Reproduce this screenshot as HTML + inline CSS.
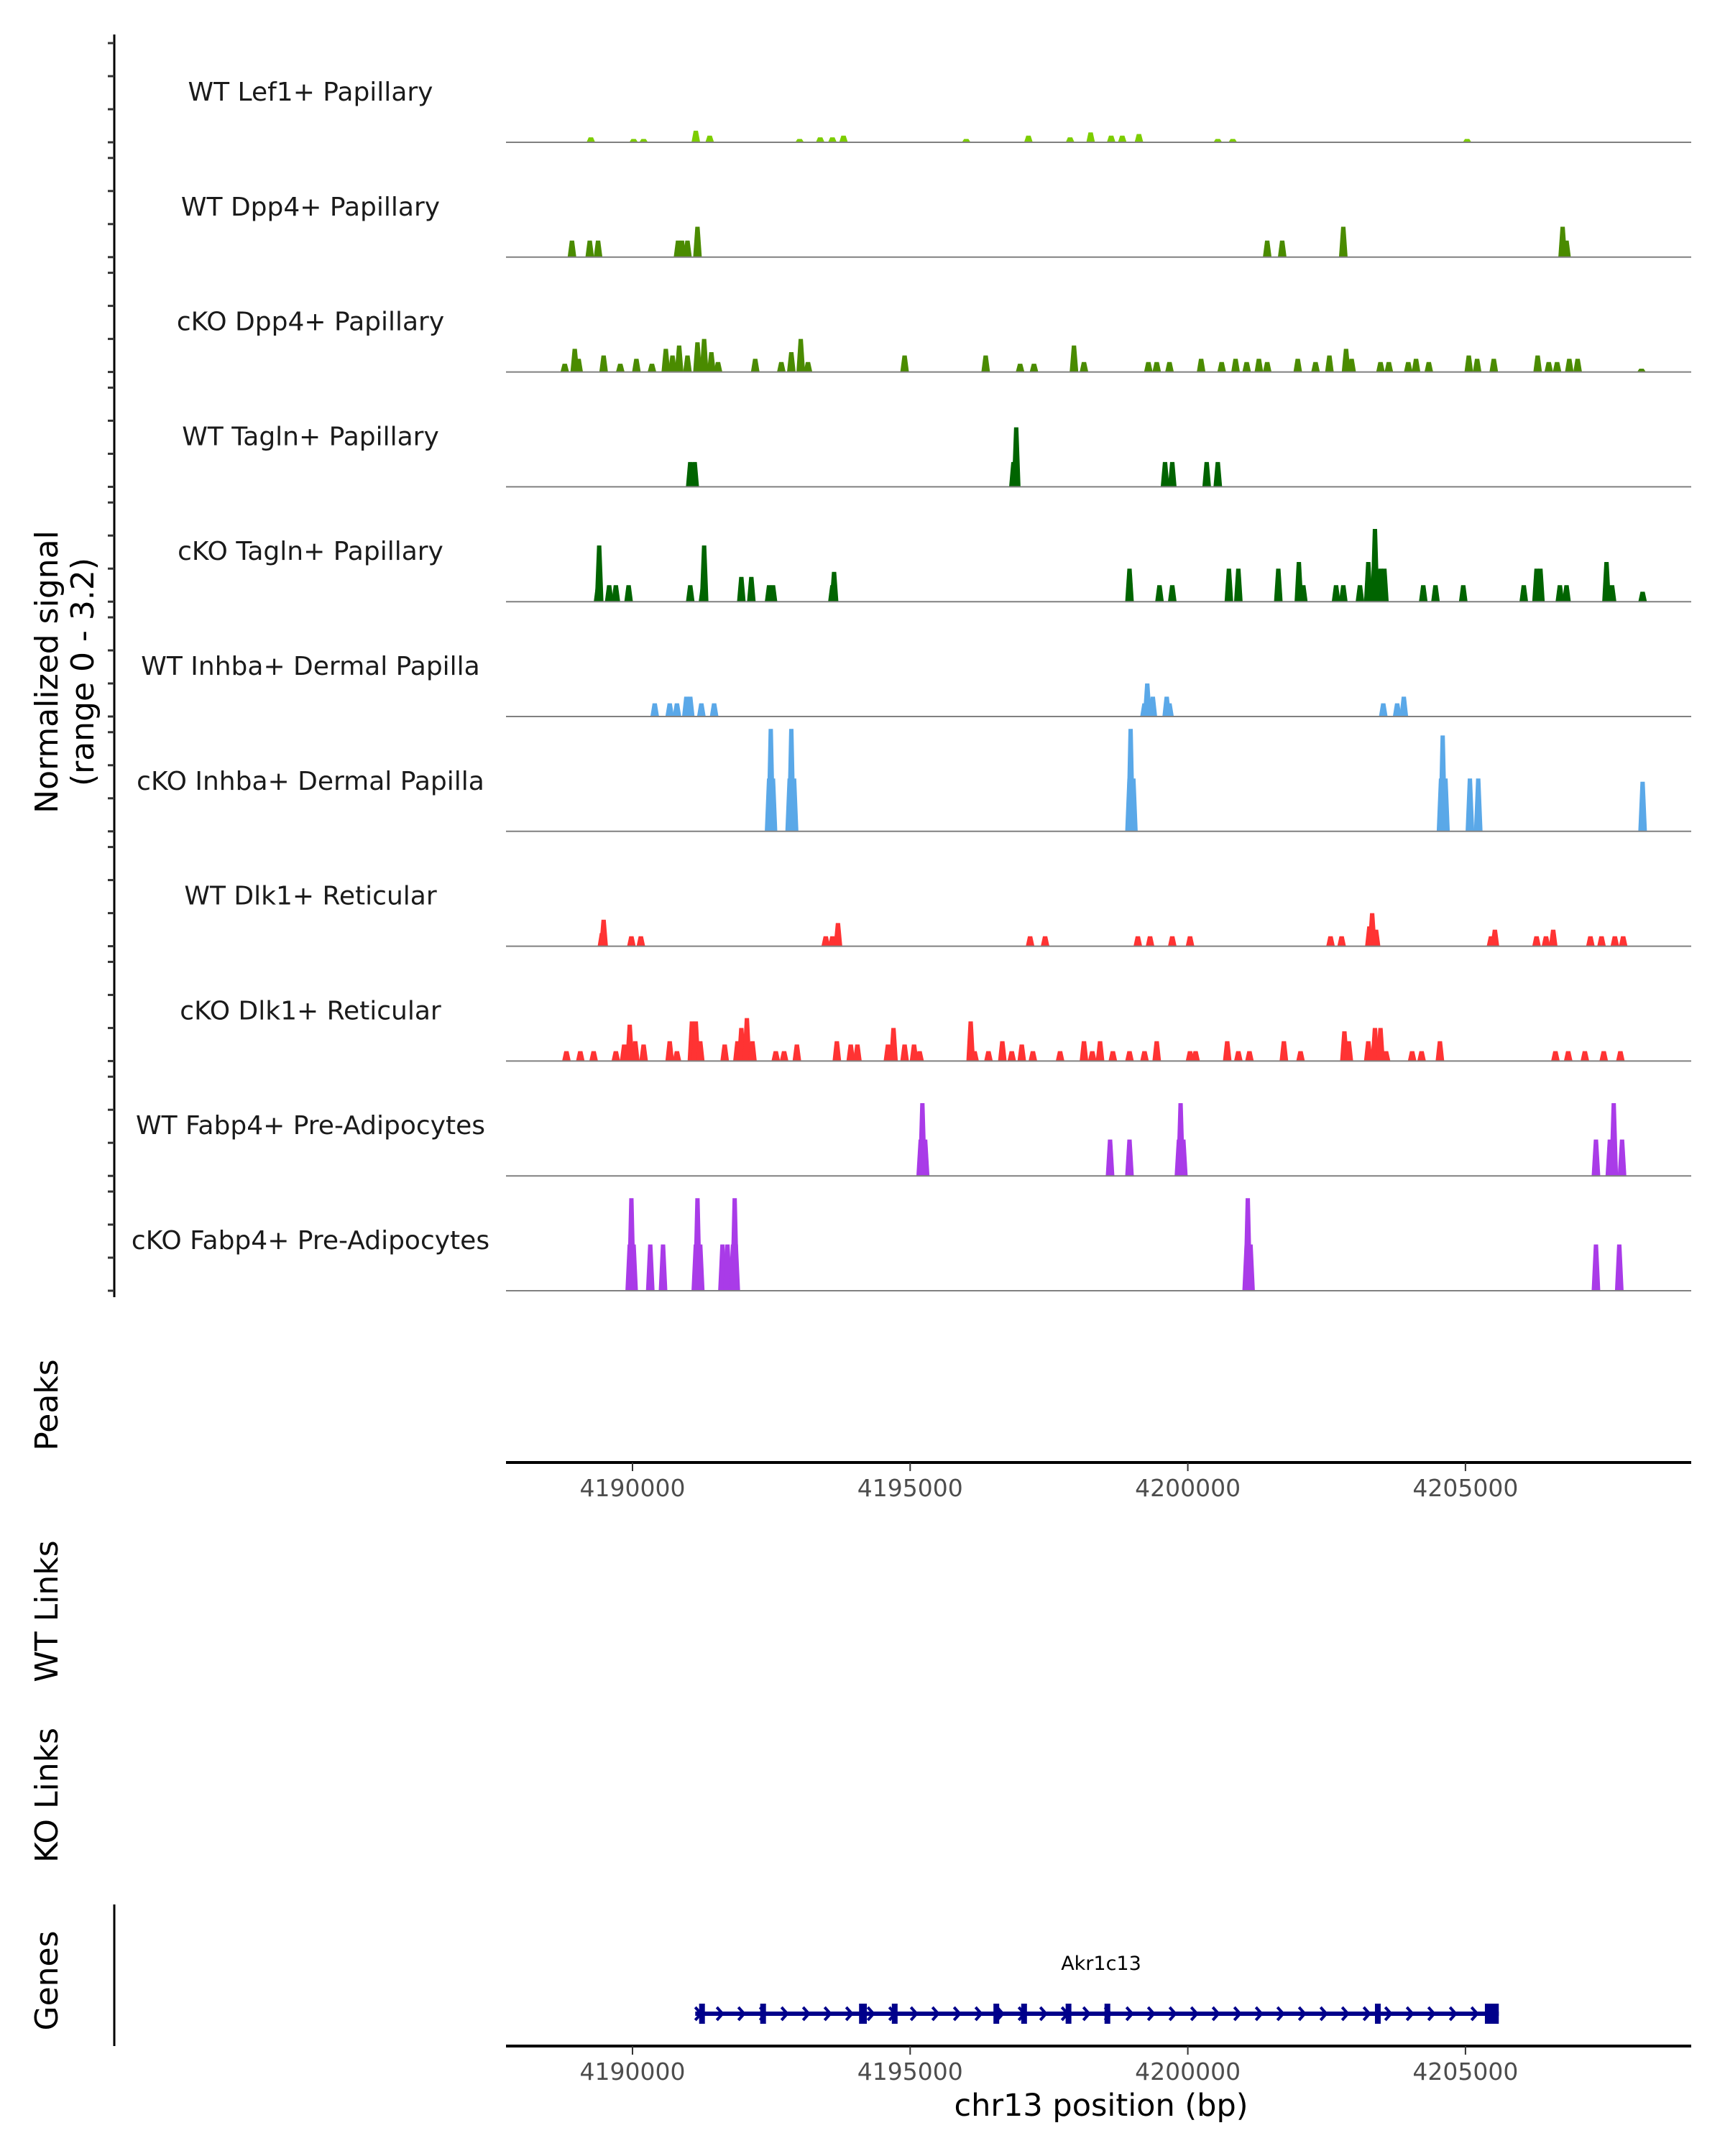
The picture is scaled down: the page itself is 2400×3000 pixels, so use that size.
<!DOCTYPE html>
<html><head><meta charset="utf-8">
<style>
html,body{margin:0;padding:0;background:#fff;}
svg{display:block;font-family:"DejaVu Sans","Liberation Sans",sans-serif;}
</style></head>
<body>
<svg id="chart" width="2400" height="3000" viewBox="0 0 2400 3000" xmlns="http://www.w3.org/2000/svg">
<rect x="0" y="0" width="2400" height="3000" fill="#fff"/>
<g id="tracks"></g>
<g id="axes"></g>
<g id="genes"></g>
</svg>
<script>
// ---- data (positions in kb on chr13, values in normalized signal) ----
var trackNames = ["WT Lef1+ Papillary","WT Dpp4+ Papillary","cKO Dpp4+ Papillary","WT Tagln+ Papillary","cKO Tagln+ Papillary","WT Inhba+ Dermal Papilla","cKO Inhba+ Dermal Papilla","WT Dlk1+ Reticular","cKO Dlk1+ Reticular","WT Fabp4+ Pre-Adipocytes","cKO Fabp4+ Pre-Adipocytes"];
var trackColors = ["#7ccd00","#4a8b00","#4a8b00","#006400","#006400","#5aa8e8","#5aa8e8","#ff3333","#ff3333","#a93be8","#a93be8"];
var lef1WT = [[4189.25,0.15],[4190.02,0.1],[4190.20,0.1],[4191.14,0.35],[4191.39,0.2],[4193.01,0.1],[4193.38,0.15],[4193.60,0.15],[4193.80,0.2],[4196.01,0.1],[4197.13,0.2],[4197.88,0.15],[4198.25,0.3],[4198.62,0.2],[4198.82,0.2],[4199.12,0.25],[4200.54,0.1],[4200.81,0.1],[4205.03,0.1]];
var dpp4WT = [[4188.91,0.5],[4189.23,0.5],[4189.38,0.5],[4190.82,0.5],[4190.89,0.5],[4190.99,0.5],[4191.17,0.92],[4201.43,0.5],[4201.70,0.5],[4202.80,0.92],[4206.75,0.92],[4206.82,0.5]];
var dpp4KO = [[4188.78,0.25],[4188.96,0.7],[4189.03,0.4],[4189.48,0.5],[4189.78,0.25],[4190.07,0.4],[4190.35,0.25],[4190.60,0.7],[4190.72,0.5],[4190.84,0.8],[4190.99,0.5],[4191.17,0.9],[4191.29,1.0],[4191.42,0.6],[4191.54,0.3],[4192.21,0.4],[4192.68,0.3],[4192.86,0.6],[4193.03,1.0],[4193.16,0.3],[4194.90,0.5],[4196.36,0.5],[4196.98,0.25],[4197.23,0.25],[4197.95,0.8],[4198.13,0.3],[4199.29,0.3],[4199.44,0.3],[4199.67,0.3],[4200.24,0.4],[4200.61,0.3],[4200.86,0.4],[4201.06,0.3],[4201.28,0.4],[4201.43,0.3],[4201.98,0.4],[4202.30,0.3],[4202.55,0.5],[4202.85,0.7],[4202.95,0.4],[4203.47,0.3],[4203.62,0.3],[4203.97,0.3],[4204.11,0.4],[4204.34,0.3],[4205.06,0.5],[4205.21,0.4],[4205.51,0.4],[4206.30,0.5],[4206.50,0.3],[4206.65,0.3],[4206.87,0.4],[4207.02,0.4],[4208.17,0.1]];
var taglnWT = [[4191.04,0.75],[4191.12,0.75],[4196.86,0.75],[4196.91,1.8],[4199.59,0.75],[4199.72,0.75],[4200.34,0.75],[4200.54,0.75]];
var taglnKO = [[4189.38,0.5],[4189.40,1.7],[4189.58,0.5],[4189.70,0.5],[4189.93,0.5],[4191.04,0.5],[4191.27,0.5],[4191.29,1.7],[4191.96,0.75],[4192.14,0.75],[4192.46,0.5],[4192.53,0.5],[4193.60,0.5],[4193.63,0.9],[4198.95,1.0],[4199.49,0.5],[4199.72,0.5],[4200.74,1.0],[4200.91,1.0],[4201.63,1.0],[4202.00,1.2],[4202.08,0.5],[4202.67,0.5],[4202.80,0.5],[4203.10,0.5],[4203.25,1.2],[4203.37,2.2],[4203.47,1.0],[4203.54,1.0],[4204.24,0.5],[4204.46,0.5],[4204.96,0.5],[4206.05,0.5],[4206.28,1.0],[4206.35,1.0],[4206.70,0.5],[4206.82,0.5],[4207.54,1.2],[4207.64,0.5],[4208.19,0.3]];
var inhbaWT = [[4190.40,0.4],[4190.67,0.4],[4190.80,0.4],[4190.97,0.6],[4191.04,0.6],[4191.24,0.4],[4191.47,0.4],[4199.22,0.4],[4199.27,1.0],[4199.37,0.6],[4199.62,0.6],[4199.67,0.4],[4203.52,0.4],[4203.77,0.4],[4203.89,0.6]];
var inhbaKO = [[4192.46,1.6],[4192.49,3.1],[4192.53,1.6],[4192.83,1.6],[4192.86,3.1],[4192.91,1.6],[4198.95,1.6],[4198.97,3.1],[4199.02,1.6],[4204.56,1.6],[4204.59,2.9],[4204.64,1.6],[4205.08,1.6],[4205.23,1.6],[4208.19,1.5]];
var dlk1WT = [[4189.45,0.4],[4189.48,0.8],[4189.98,0.3],[4190.15,0.3],[4193.48,0.3],[4193.60,0.3],[4193.70,0.7],[4197.16,0.3],[4197.43,0.3],[4199.10,0.3],[4199.32,0.3],[4199.72,0.3],[4200.04,0.3],[4202.57,0.3],[4202.77,0.3],[4203.27,0.6],[4203.32,1.0],[4203.39,0.5],[4205.46,0.3],[4205.53,0.5],[4206.28,0.3],[4206.45,0.3],[4206.58,0.5],[4207.25,0.3],[4207.45,0.3],[4207.69,0.3],[4207.84,0.3]];
var dlk1KO = [[4188.81,0.3],[4189.06,0.3],[4189.30,0.3],[4189.70,0.3],[4189.85,0.5],[4189.95,1.1],[4190.05,0.6],[4190.20,0.5],[4190.67,0.6],[4190.80,0.3],[4191.07,1.2],[4191.14,1.2],[4191.22,0.6],[4191.66,0.5],[4191.89,0.6],[4191.96,1.0],[4192.06,1.3],[4192.16,0.6],[4192.58,0.3],[4192.73,0.3],[4192.96,0.5],[4193.68,0.6],[4193.93,0.5],[4194.05,0.5],[4194.60,0.5],[4194.70,1.0],[4194.90,0.5],[4195.07,0.5],[4195.17,0.3],[4196.09,1.2],[4196.16,0.3],[4196.41,0.3],[4196.66,0.6],[4196.83,0.3],[4197.01,0.5],[4197.21,0.3],[4197.70,0.3],[4198.13,0.6],[4198.28,0.3],[4198.42,0.6],[4198.65,0.3],[4198.95,0.3],[4199.22,0.3],[4199.44,0.6],[4200.04,0.3],[4200.14,0.3],[4200.71,0.6],[4200.91,0.3],[4201.11,0.3],[4201.73,0.6],[4202.03,0.3],[4202.82,0.9],[4202.90,0.6],[4203.25,0.6],[4203.37,1.0],[4203.47,1.0],[4203.57,0.3],[4204.04,0.3],[4204.21,0.3],[4204.54,0.6],[4206.62,0.3],[4206.85,0.3],[4207.15,0.3],[4207.49,0.3],[4207.79,0.3]];
var fabp4WT = [[4195.19,1.1],[4195.22,2.2],[4195.27,1.1],[4198.60,1.1],[4198.95,1.1],[4199.84,1.1],[4199.87,2.2],[4199.92,1.1],[4207.35,1.1],[4207.60,1.1],[4207.67,2.2],[4207.82,1.1]];
var fabp4KO = [[4189.95,1.4],[4189.98,2.8],[4190.02,1.4],[4190.32,1.4],[4190.55,1.4],[4191.14,1.4],[4191.17,2.8],[4191.22,1.4],[4191.62,1.4],[4191.71,1.4],[4191.81,1.4],[4191.84,2.8],[4191.86,1.4],[4201.06,1.4],[4201.08,2.8],[4201.13,1.4],[4207.35,1.4],[4207.77,1.4]];
var trackData = [lef1WT,dpp4WT,dpp4KO,taglnWT,taglnKO,inhbaWT,inhbaKO,dlk1WT,dlk1KO,fabp4WT,fabp4KO];
var xTicks = [4190000,4195000,4200000,4205000];
var xTickLabels = ["4190000","4195000","4200000","4205000"];
var geneName = "Akr1c13";
var geneStart = 4191.13, geneEnd = 4205.6;
var exons = [[4191.20,4191.28],[4192.30,4192.38],[4194.08,4194.22],[4194.67,4194.75],[4196.50,4196.58],[4197.00,4197.08],[4197.80,4197.88],[4198.50,4198.58],[4203.37,4203.43],[4205.35,4205.60]];

// ---- scales ----
var X0 = 704, X1 = 2353;
var bpRef = 4190000, pxRef = 880, pxPerBp = 0.07726;
function xs(bp){ return pxRef + (bp - bpRef) * pxPerBp; }
function xk(kb){ return xs(kb * 1000); }
var base0 = 198, trackStep = 159.8, unitPx = 46;
function baseY(i){ return base0 + trackStep * i; }
function ys(i, v){ return baseY(i) - v * unitPx; }

var NS = "http://www.w3.org/2000/svg";
function mk(tag, attrs, parent){ var e = document.createElementNS(NS, tag); for (var k in attrs) e.setAttribute(k, attrs[k]); parent.appendChild(e); return e; }

var tracks = document.getElementById("tracks");
var axes = document.getElementById("axes");
var genes = document.getElementById("genes");

for (var i = 0; i < trackNames.length; i++) {
  var g = mk("g", {}, tracks);
  
  
  var lbl = mk("text", {x: 432, y: baseY(i) - 58, "text-anchor": "middle", "font-size": 36, fill: "#1a1a1a"}, g);
  lbl.textContent = trackNames[i];
  
  
  var d = trackData[i];
  for (var j = 0; j < d.length; j++) {
    var cx = xk(d[j][0]);
    var hw = 6, tw = 3;
    var yb = baseY(i), yt = ys(i, d[j][1]);
    var p = mk("polygon", {points: (cx-hw)+","+yb+" "+(cx-tw)+","+yt+" "+(cx+tw)+","+yt+" "+(cx+hw)+","+yb, fill: trackColors[i]}, g);
    
    
  }
  var bl = mk("line", {x1: X0, x2: X1, y1: baseY(i), y2: baseY(i), stroke: "#808080", "stroke-width": 2}, g);
  
  
}

var ya = mk("line", {x1: 159, x2: 159, y1: 48, y2: 1805, stroke: "#000", "stroke-width": 3}, axes);


for (var i2 = 0; i2 < trackNames.length; i2++) {
  for (var k = 0; k < 4; k++) {
    var ty = baseY(i2) - k * unitPx;
    var t = mk("line", {x1: 150, x2: 159, y1: ty, y2: ty, stroke: "#333", "stroke-width": 3}, axes);
    
    
  }
}
function rotText(txt, x, y, size, name){
  var e = mk("text", {x: x, y: y, "text-anchor": "middle", "font-size": size, fill: "#000", transform: "rotate(-90 "+x+" "+y+")"}, axes);
  e.textContent = txt;
  
  
}
rotText("Normalized signal", 80, 935, 44, "y-axis-title");
rotText("(range 0 - 3.2)", 130, 935, 44, "y-axis-subtitle");
rotText("Peaks", 80, 1955, 44, "peaks-label");
rotText("WT Links", 80, 2242, 44, "wt-links-label");
rotText("KO Links", 80, 2498, 44, "ko-links-label");
rotText("Genes", 80, 2756, 44, "genes-label");

function xAxis(y, name){
  var a = mk("line", {x1: X0, x2: X1, y1: y, y2: y, stroke: "#000", "stroke-width": 4}, axes);
  
  
  for (var q = 0; q < xTicks.length; q++) {
    var tx = xs(xTicks[q]);
    var tk = mk("line", {x1: tx, x2: tx, y1: y, y2: y + 12, stroke: "#333", "stroke-width": 2}, axes);
    
    
    var tl = mk("text", {x: tx, y: y + 47, "text-anchor": "middle", "font-size": 33, fill: "#4d4d4d"}, axes);
    tl.textContent = xTickLabels[q];
    
    
  }
}
xAxis(2035, "peaks-x-axis");
xAxis(2847, "genes-x-axis");
var xt = mk("text", {x: 1532, y: 2944, "text-anchor": "middle", "font-size": 43, fill: "#000"}, axes);
xt.textContent = "chr13 position (bp)";



var gl = mk("line", {x1: 159, x2: 159, y1: 2650, y2: 2847, stroke: "#000", "stroke-width": 3}, genes);


var gy = 2802;
var gline = mk("line", {x1: xk(geneStart), x2: xk(geneEnd), y1: gy, y2: gy, stroke: "#00008b", "stroke-width": 6}, genes);


for (var a2 = xk(geneStart) + 4; a2 < xk(geneEnd) - 4; a2 += 30) {
  var ar = mk("polyline", {points: (a2-4)+","+(gy-9)+" "+(a2+4)+","+gy+" "+(a2-4)+","+(gy+9), fill: "none", stroke: "#00008b", "stroke-width": 4}, genes);
  
  
}
for (var e2 = 0; e2 < exons.length; e2++) {
  var ex0 = xk(exons[e2][0]), ex1 = xk(exons[e2][1]);
  var r = mk("rect", {x: ex0, y: gy - 14, width: Math.max(ex1 - ex0, 8), height: 28, fill: "#00008b"}, genes);
  
  
}
var gn = mk("text", {x: 1532, y: 2741, "text-anchor": "middle", "font-size": 27, fill: "#000"}, genes);
gn.textContent = geneName;


</script>
</body></html>
